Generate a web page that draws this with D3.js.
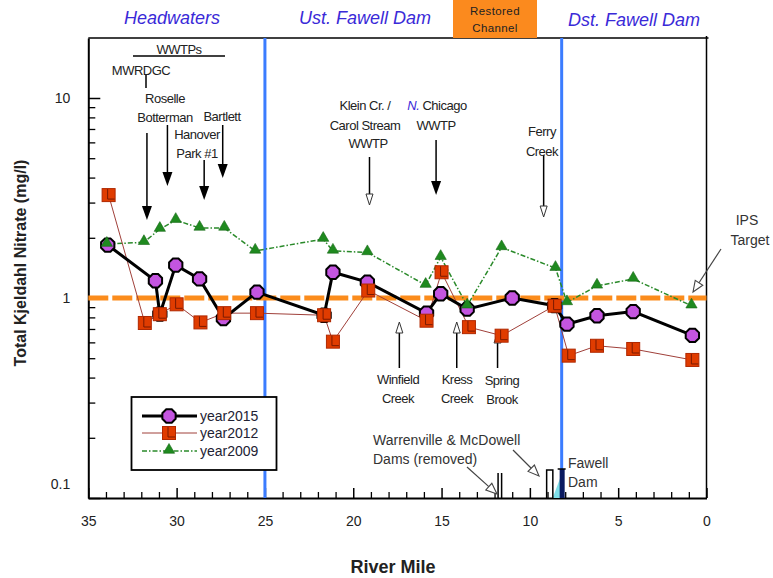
<!DOCTYPE html>
<html><head><meta charset="utf-8">
<script src="https://cdn.jsdelivr.net/npm/d3@7"></script>
<style>
body{margin:0;background:#fff;}
svg{display:block;font-family:"Liberation Sans",Arial,sans-serif;}
</style></head><body>
<svg id="c" width="773" height="578"></svg>
<script>
// ---- data ----
const miles2015 = [33.9, 31.2, 30.95, 30.05, 28.7, 27.35, 25.45, 21.65, 21.15, 19.2, 15.85, 15.05, 13.55, 11.0, 8.6, 7.9, 6.2, 4.15, 0.8];
const vals2015  = [1.84, 1.22, 0.83, 1.46, 1.245, 0.79, 1.07, 0.82, 1.345, 1.2, 0.84, 1.05, 0.88, 1.0, 0.915, 0.74, 0.815, 0.855, 0.65];
const miles2012 = [33.85, 31.8, 30.95, 30.0, 28.65, 27.3, 25.45, 21.65, 21.15, 19.15, 15.85, 15.0, 13.45, 11.6, 8.6, 7.8, 6.2, 4.15, 0.8];
const vals2012  = [3.27, 0.75, 0.83, 0.93, 0.755, 0.84, 0.84, 0.82, 0.605, 1.09, 0.77, 1.345, 0.715, 0.648, 0.915, 0.515, 0.577, 0.556, 0.49];
const miles2009 = [33.95, 31.85, 30.95, 30.05, 28.7, 27.3, 25.55, 21.7, 21.15, 19.2, 15.9, 15.05, 13.55, 11.6, 8.55, 7.9, 6.2, 4.15, 0.85];
const vals2009  = [1.86, 1.9, 2.21, 2.45, 2.24, 2.24, 1.72, 1.97, 1.72, 1.69, 1.16, 1.6, 0.915, 1.79, 1.41, 0.95, 1.15, 1.245, 0.915];
const seriesNames = ["year2015", "year2012", "year2009"];
const xTickValues = [35, 30, 25, 20, 15, 10, 5, 0];
const yTickValues = [0.1, 1, 10];
const yTickLabels = ["0.1", "1", "10"];
const ipsTarget = 1;
const zoneBoundaries = [25, 8.2];
const zoneLabels = ["Headwaters", "Ust. Fawell Dam", "Dst. Fawell Dam"];
const restoredLabel = ["Restored", "Channel"];
const downArrowsFilled = [31.68, 30.52, 28.44, 27.39, 15.31];
const downArrowsOpen = [19.08, 9.22];
const upArrows = [17.39, 14.14, 11.83];

// ---- scales ----
const svg = d3.select("#c");
const L = 88.3, R = 706.5, T = 38, B = 498;
const x = d3.scaleLinear().domain([35, 0]).range([L, R]);
const y = d3.scaleLog().domain([0.1, Math.pow(10, 1.3)]).range([B, T]);

// ---- frame ----
svg.append("line").attr("x1", L).attr("x2", R + 2).attr("y1", T).attr("y2", T).attr("stroke", "#000").attr("stroke-width", 1.5);
svg.append("line").attr("x1", R).attr("x2", R).attr("y1", T - 2).attr("y2", B).attr("stroke", "#000").attr("stroke-width", 1.5);

// ---- x axis ----
const gx = svg.append("g").attr("transform", `translate(0,${B})`)
  .call(d3.axisBottom(x).tickValues(xTickValues).tickSize(-10).tickSizeOuter(0).tickPadding(18).tickFormat(d3.format("d")));
gx.select(".domain").attr("stroke-width", 2);
gx.selectAll(".tick line").attr("stroke-width", 1.5);
gx.selectAll("text").attr("font-size", 14).attr("fill", "#222");
const minorX = d3.range(1, 35).filter(d => d % 5 !== 0);
svg.append("g").attr("transform", `translate(0,${B})`)
  .call(d3.axisBottom(x).tickValues(minorX).tickSize(-6).tickFormat(""))
  .call(g => g.select(".domain").remove())
  .selectAll("line").attr("stroke-width", 1.3);

// ---- y axis ----
const gy = svg.append("g").attr("transform", `translate(${L},0)`)
  .call(d3.axisLeft(y).tickValues(yTickValues).tickSize(-12).tickSizeOuter(0).tickPadding(18)
    .tickFormat((d, i) => yTickLabels[i]));
gy.select(".domain").attr("stroke-width", 2);
gy.selectAll(".tick line").attr("stroke-width", 1.5);
gy.selectAll("text").attr("font-size", 14).attr("fill", "#222");
gy.selectAll(".tick").filter(d => d === 0.1).select("text").attr("dy", "-0.7em");
const minorY = [];
[0.1, 1, 10].forEach(b => { for (let k = 2; k <= 9; k++) { const v = b * k; if (v < y.domain()[1]) minorY.push(v); } });
svg.append("g").attr("transform", `translate(${L},0)`)
  .call(d3.axisLeft(y).tickValues(minorY).tickSize(-7).tickFormat(""))
  .call(g => g.select(".domain").remove())
  .selectAll("line").attr("stroke-width", 1.3);

// ---- axis titles ----
svg.append("text").attr("x", 393).attr("y", 573).attr("text-anchor", "middle")
  .attr("font-size", 18).attr("font-weight", "bold").attr("fill", "#222").text("River Mile");
svg.append("text").attr("transform", "translate(26,263) rotate(-90)").attr("text-anchor", "middle")
  .attr("font-size", 16).attr("font-weight", "bold").attr("fill", "#222").text("Total Kjeldahl Nitrate (mg/l)");

// ---- zone labels ----
const zc = "#3a2ad8";
svg.append("text").attr("x", 172).attr("y", 24).attr("text-anchor", "middle").attr("font-size", 18).attr("font-style", "italic").attr("fill", zc).text(zoneLabels[0]);
svg.append("text").attr("x", 365).attr("y", 24).attr("text-anchor", "middle").attr("font-size", 18).attr("font-style", "italic").attr("fill", zc).text(zoneLabels[1]);
svg.append("text").attr("x", 634).attr("y", 26).attr("text-anchor", "middle").attr("font-size", 18).attr("font-style", "italic").attr("fill", zc).text(zoneLabels[2]);
svg.append("rect").attr("x", 453).attr("y", 0).attr("width", 84).attr("height", 38).attr("fill", "#fb8a1e");
svg.append("text").attr("x", 495).attr("y", 15).attr("text-anchor", "middle").attr("font-size", 11.5).attr("letter-spacing", "0.4").attr("fill", "#222").text(restoredLabel[0]);
svg.append("text").attr("x", 495).attr("y", 32).attr("text-anchor", "middle").attr("font-size", 11.5).attr("letter-spacing", "0.4").attr("fill", "#222").text(restoredLabel[1]);

// ---- boundaries ----
zoneBoundaries.forEach(m => {
  svg.append("line").attr("x1", x(m)).attr("x2", x(m)).attr("y1", T).attr("y2", B)
    .attr("stroke", "#3b7cff").attr("stroke-width", 3);
});

// ---- dam symbols ----
svg.append("path").attr("d", `M${x(8.2)-9},${B} L${x(8.2)},${B-24} L${x(8.2)},${B} Z`).attr("fill", "#7fe0ea");
svg.append("rect").attr("x", x(8.2) - 2).attr("y", B - 29).attr("width", 5).attr("height", 29).attr("fill", "#0a1a60");
svg.append("line").attr("x1", x(8.2)-4).attr("x2", x(8.2)+4).attr("y1", B-29).attr("y2", B-29).attr("stroke", "#000").attr("stroke-width", 1.5);
svg.append("path").attr("d", `M${x(9.05)},${B} V${B-28} H${x(8.7)} V${B}`).attr("fill", "none").attr("stroke", "#000").attr("stroke-width", 1.5);
svg.append("path").attr("d", `M${x(11.8)},${B} V${B-25} M${x(11.6)},${B} V${B-25}`).attr("fill", "none").attr("stroke", "#000").attr("stroke-width", 1.5);
const dt = svg.append("g").attr("font-size", 14).attr("fill", "#333");
dt.append("text").attr("x", 568).attr("y", 468).text("Fawell");
dt.append("text").attr("x", 568).attr("y", 487).text("Dam");
dt.append("text").attr("x", 373).attr("y", 445).text("Warrenville & McDowell");
dt.append("text").attr("x", 373).attr("y", 464).text("Dams (removed)");
function grayArrow(x1, y1, x2, y2) {
  const a = Math.atan2(y2 - y1, x2 - x1), h = 11, w = 4.5;
  const bx = x2 - h * Math.cos(a), by = y2 - h * Math.sin(a);
  svg.append("line").attr("x1", x1).attr("y1", y1).attr("x2", bx).attr("y2", by).attr("stroke", "#444").attr("stroke-width", 1.2);
  const p = [[x2, y2], [bx + w * Math.sin(a), by - w * Math.cos(a)], [bx - w * Math.sin(a), by + w * Math.cos(a)]];
  svg.append("path").attr("d", "M" + p.join("L") + "Z").attr("fill", "#fff").attr("stroke", "#444").attr("stroke-width", 1.1);
}
grayArrow(467, 467, 497, 494);
grayArrow(513, 450, 539, 476);
grayArrow(721, 249, 693, 292);

// ---- IPS target line ----
svg.append("line").attr("x1", L).attr("x2", R).attr("y1", y(ipsTarget)).attr("y2", y(ipsTarget))
  .attr("stroke", "#fb8c1c").attr("stroke-width", 5).attr("stroke-dasharray", "20,4");
svg.append("text").attr("x", 747).attr("y", 225).attr("text-anchor", "middle").attr("font-size", 14).attr("fill", "#333").text("IPS");
svg.append("text").attr("x", 750).attr("y", 245).attr("text-anchor", "middle").attr("font-size", 14).attr("fill", "#333").text("Target");

// ---- annotation arrows ----
function downArrow(m, y1, y2, filled) {
  const xx = x(m);
  svg.append("line").attr("x1", xx).attr("x2", xx).attr("y1", y1).attr("y2", y2 - (filled ? 10 : 8)).attr("stroke", "#000").attr("stroke-width", 1.5);
  if (filled) svg.append("path").attr("d", `M${xx-5},${y2-14} L${xx+5},${y2-14} L${xx},${y2} Z`).attr("fill", "#000");
  else svg.append("path").attr("d", `M${xx-3.5},${y2-11} L${xx+3.5},${y2-11} L${xx},${y2} Z`).attr("fill", "#fff").attr("stroke", "#333").attr("stroke-width", 1);
}
function upArrow(m, y1, y2) {
  const xx = x(m);
  svg.append("line").attr("x1", xx).attr("x2", xx).attr("y1", y1).attr("y2", y2 + 8).attr("stroke", "#000").attr("stroke-width", 1.5);
  svg.append("path").attr("d", `M${xx-3.5},${y2+11} L${xx+3.5},${y2+11} L${xx},${y2} Z`).attr("fill", "#fff").attr("stroke", "#333").attr("stroke-width", 1);
}
downArrow(downArrowsFilled[0], 133, 220, true);
downArrow(downArrowsFilled[1], 125, 186, true);
downArrow(downArrowsFilled[2], 160, 200, true);
downArrow(downArrowsFilled[3], 125, 178, true);
downArrow(downArrowsFilled[4], 140, 195, true);
downArrow(downArrowsOpen[0], 157, 205, false);
downArrow(downArrowsOpen[1], 155, 217, false);
upArrows.forEach((m, i) => upArrow(m, 368, i === 2 ? 332 : 322));
svg.append("line").attr("x1", 146).attr("x2", 146).attr("y1", 74).attr("y2", 88).attr("stroke", "#000").attr("stroke-width", 1.5);

// ---- annotation text ----
const ann = svg.append("g").attr("font-size", 13).attr("fill", "#222").attr("letter-spacing", "-0.5").attr("text-anchor", "middle");
function at(tx, ty, s) { return ann.append("text").attr("x", tx).attr("y", ty).text(s); }
at(179, 54, "WWTPs");
svg.append("line").attr("x1", 133).attr("x2", 225).attr("y1", 56).attr("y2", 56).attr("stroke", "#000").attr("stroke-width", 1.3);
at(141, 75, "MWRDGC");
at(165, 103, "Roselle");
at(165, 122, "Botterman");
at(222, 121, "Bartlett");
at(197, 139, "Hanover");
at(197, 158, "Park #1");
at(365, 110, "Klein Cr. /");
at(365, 130, "Carol Stream");
at(368, 148, "WWTP");
const nc = at(437, 110, "");
nc.append("tspan").attr("font-style", "italic").attr("fill", "#3a2ad8").text("N.");
nc.append("tspan").text(" Chicago");
at(436, 130, "WWTP");
at(542, 136, "Ferry");
at(542, 156, "Creek");
at(398, 384, "Winfield");
at(398, 403, "Creek");
at(457, 384, "Kress");
at(457, 403, "Creek");
at(502, 385, "Spring");
at(502, 404, "Brook");

// ---- series ----
const d15 = miles2015.map((m, i) => [m, vals2015[i]]);
const d12 = miles2012.map((m, i) => [m, vals2012[i]]);
const d09 = miles2009.map((m, i) => [m, vals2009[i]]);
const line = d3.line().x(d => x(d[0])).y(d => y(d[1]));

svg.append("path").datum(d09).attr("d", line).attr("fill", "none").attr("stroke", "#2a8a2a").attr("stroke-width", 1.5).attr("stroke-dasharray", "5,2,1.5,2");
svg.append("path").datum(d12).attr("d", line).attr("fill", "none").attr("stroke", "#a0403a").attr("stroke-width", 1);
svg.append("path").datum(d15).attr("d", line).attr("fill", "none").attr("stroke", "#000").attr("stroke-width", 3);

function octagon(cx, cy, r) {
  const pts = d3.range(8).map(k => { const a = Math.PI / 8 + k * Math.PI / 4; return [cx + r * Math.cos(a), cy + r * Math.sin(a)]; });
  return "M" + pts.join("L") + "Z";
}
const tri = d3.symbol().type(d3.symbolTriangle).size(55);
function drawTri(g, cx, cy) { g.append("path").attr("d", tri).attr("transform", `translate(${cx},${cy})`).attr("fill", "#1f8a1f").attr("stroke", "#186818").attr("stroke-width", 0.6); }
function drawSq(g, cx, cy) {
  g.append("rect").attr("x", cx - 6.5).attr("y", cy - 6.5).attr("width", 13).attr("height", 13).attr("fill", "#e03c00").attr("stroke", "#b02800").attr("stroke-width", 1);
  g.append("path").attr("d", `M${cx-1},${cy-6} V${cy+4} H${cx+6}`).attr("fill", "none").attr("stroke", "#7a1a00").attr("stroke-width", 1);
}
function drawOct(g, cx, cy) { g.append("path").attr("d", octagon(cx, cy, 7.2)).attr("fill", "#c455e0").attr("stroke", "#000").attr("stroke-width", 2); }

const gm = svg.append("g");
d15.forEach(d => drawOct(gm, x(d[0]), y(d[1])));
d12.forEach(d => drawSq(gm, x(d[0]), y(d[1])));
d09.forEach(d => drawTri(gm, x(d[0]), y(d[1]) - 1));

// ---- legend ----
const lg = svg.append("g");
lg.append("rect").attr("x", 131.5).attr("y", 397).attr("width", 145).attr("height", 73).attr("fill", "#fff").attr("stroke", "#000").attr("stroke-width", 1.8);
const ly = [416, 433, 451];
lg.append("line").attr("x1", 142).attr("x2", 197).attr("y1", ly[0]).attr("y2", ly[0]).attr("stroke", "#000").attr("stroke-width", 3);
drawOct(lg, 169, ly[0]);
lg.append("line").attr("x1", 142).attr("x2", 197).attr("y1", ly[1]).attr("y2", ly[1]).attr("stroke", "#a0403a").attr("stroke-width", 1);
drawSq(lg, 169, ly[1]);
lg.append("line").attr("x1", 142).attr("x2", 197).attr("y1", ly[2]).attr("y2", ly[2]).attr("stroke", "#2a8a2a").attr("stroke-width", 1.5).attr("stroke-dasharray", "5,2,1.5,2");
drawTri(lg, 169, ly[2] - 1);
seriesNames.forEach((s, i) => lg.append("text").attr("x", 200).attr("y", ly[i] + 5).attr("font-size", 14).attr("fill", "#223").text(s));
</script></body></html>
